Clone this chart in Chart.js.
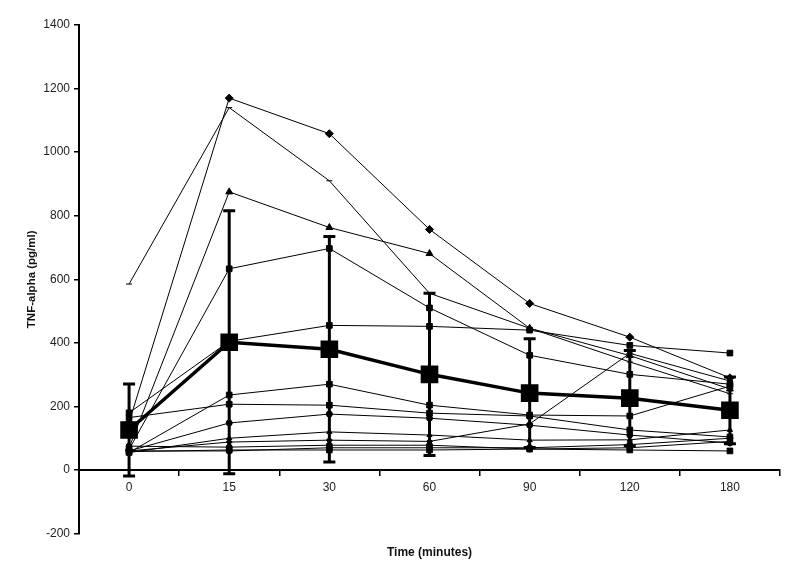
<!DOCTYPE html>
<html>
<head>
<meta charset="utf-8">
<script src="https://cdn.jsdelivr.net/npm/chart.js@4.4.0/dist/chart.umd.min.js"></script>
<style>
  body { margin: 0; background: #fff; }
  #wrap { width: 800px; height: 574px; }
</style>
</head>
<body>
<div id="wrap"><canvas id="myChart"></canvas></div>
<script>
const labels = ['0', '15', '30', '60', '90', '120', '180'];

// individual subjects
const s1 = [150, 1170, 1058, 757, 524, 418, 290];
const s2 = [585, 1140, 910, 556, 446, 340, 240];
const s3 = [70, 875, 763, 681, 446, 360, 255];
const s4 = [65, 633, 697, 510, 361, 301, 270];
const s5 = [180, 405, 455, 452, 440, 392, 368];
const s6 = [55, 236, 270, 204, 173, 170, 264];
const s7 = [165, 207, 204, 179, 170, 126, 104];
const s8 = [60, 148, 176, 163, 141, 110, 85];
const s9 = [55, 100, 120, 110, 94, 95, 126];
const s10 = [60, 88, 94, 90, 145, 367, 280];
const s11 = [75, 72, 78, 78, 66, 70, 90];
const s12 = [58, 63, 63, 63, 66, 63, 60];
const s13 = [60, 60, 70, 70, 70, 80, 100];

// mean and SD
const meanVals = [126, 402, 380, 301, 242, 226, 188];
const sdVals = [145, 414, 355, 255, 171, 150, 105];

const yTicks = [-200, 0, 200, 400, 600, 800, 1000, 1200, 1400];

function subject(d, style, r) {
  return {
    data: d,
    borderColor: '#000',
    backgroundColor: '#000',
    borderWidth: 1,
    pointStyle: style,
    pointRadius: r,
    pointBorderWidth: 1,
    tension: 0,
  };
}

const errorBars = {
  id: 'errorBars',
  afterDatasetsDraw(chart) {
    const ctx = chart.ctx;
    const x = chart.scales.x;
    const y = chart.scales.y;
    ctx.save();
    ctx.strokeStyle = '#000';
    ctx.lineWidth = 3;
    meanVals.forEach((m, i) => {
      const px = x.getPixelForValue(i);
      const top = y.getPixelForValue(m + sdVals[i]);
      const bot = y.getPixelForValue(m - sdVals[i]);
      ctx.beginPath();
      ctx.moveTo(px, top);
      ctx.lineTo(px, bot);
      ctx.moveTo(px - 6, top);
      ctx.lineTo(px + 6, top);
      ctx.moveTo(px - 6, bot);
      ctx.lineTo(px + 6, bot);
      ctx.stroke();
    });
    ctx.restore();
  }
};

const data = {
  labels: labels,
  datasets: [
    subject(s1, 'rectRot', 4),
    subject(s2, 'line', 3),
    subject(s3, 'triangle', 4),
    subject(s4, 'rect', 4),
    subject(s5, 'rect', 4),
    subject(s6, 'rect', 4),
    subject(s7, 'rect', 4),
    subject(s8, 'circle', 3),
    subject(s9, 'triangle', 3),
    subject(s10, 'rectRot', 3),
    subject(s11, 'circle', 3),
    subject(s12, 'rect', 4),
    subject(s13, 'circle', 3),
    {
      data: meanVals,
      borderColor: '#000',
      backgroundColor: '#000',
      borderWidth: 3.5,
      pointStyle: 'rect',
      pointRadius: 10,
      tension: 0,
    }
  ]
};

const config = {
  type: 'line',
  data: data,
  options: {
    responsive: true,
    maintainAspectRatio: false,
    animation: false,
    layout: { padding: { top: 25, right: 20, left: 0, bottom: 0 } },
    plugins: {
      legend: { display: false },
      tooltip: { enabled: false },
      title: {
        display: true,
        text: 'Time (minutes)',
        position: 'bottom',
        fullSize: false,
        color: '#111',
        font: { family: 'Liberation Sans', size: 12, weight: 'bold' },
        padding: { top: 12, bottom: 14 }
      }
    },
    scales: {
      x: {
        position: { y: 0 },
        offset: true,
        grid: {
          offset: true,
          drawOnChartArea: false,
          drawTicks: true,
          tickLength: 5,
          color: '#000',
          lineWidth: 1.5,
        },
        border: { display: true, color: '#000', width: 2 },
        ticks: {
          color: '#222',
          padding: 5,
          font: { family: 'Liberation Sans', size: 12 }
        }
      },
      y: {
        min: -200,
        max: 1400,
        afterBuildTicks(scale) {
          scale.ticks = yTicks.map(v => ({ value: v }));
        },
        afterFit(scale) { scale.width = 79; },
        grid: {
          drawOnChartArea: false,
          tickLength: 5,
          color: '#000',
          lineWidth: 1.5,
        },
        border: { display: true, color: '#000', width: 2 },
        ticks: {
          color: '#222',
          padding: 4,
          font: { family: 'Liberation Sans', size: 12 },
          callback: v => String(v)
        },
        title: {
          display: true,
          text: 'TNF-alpha (pg/ml)',
          color: '#111',
          font: { family: 'Liberation Sans', size: 11.5, weight: 'bold' },
          padding: { top: 25, bottom: 0 }
        }
      }
    }
  },
  plugins: [errorBars]
};

const myChart = new Chart(
  document.getElementById('myChart'),
  config
);
</script>
</body>
</html>
